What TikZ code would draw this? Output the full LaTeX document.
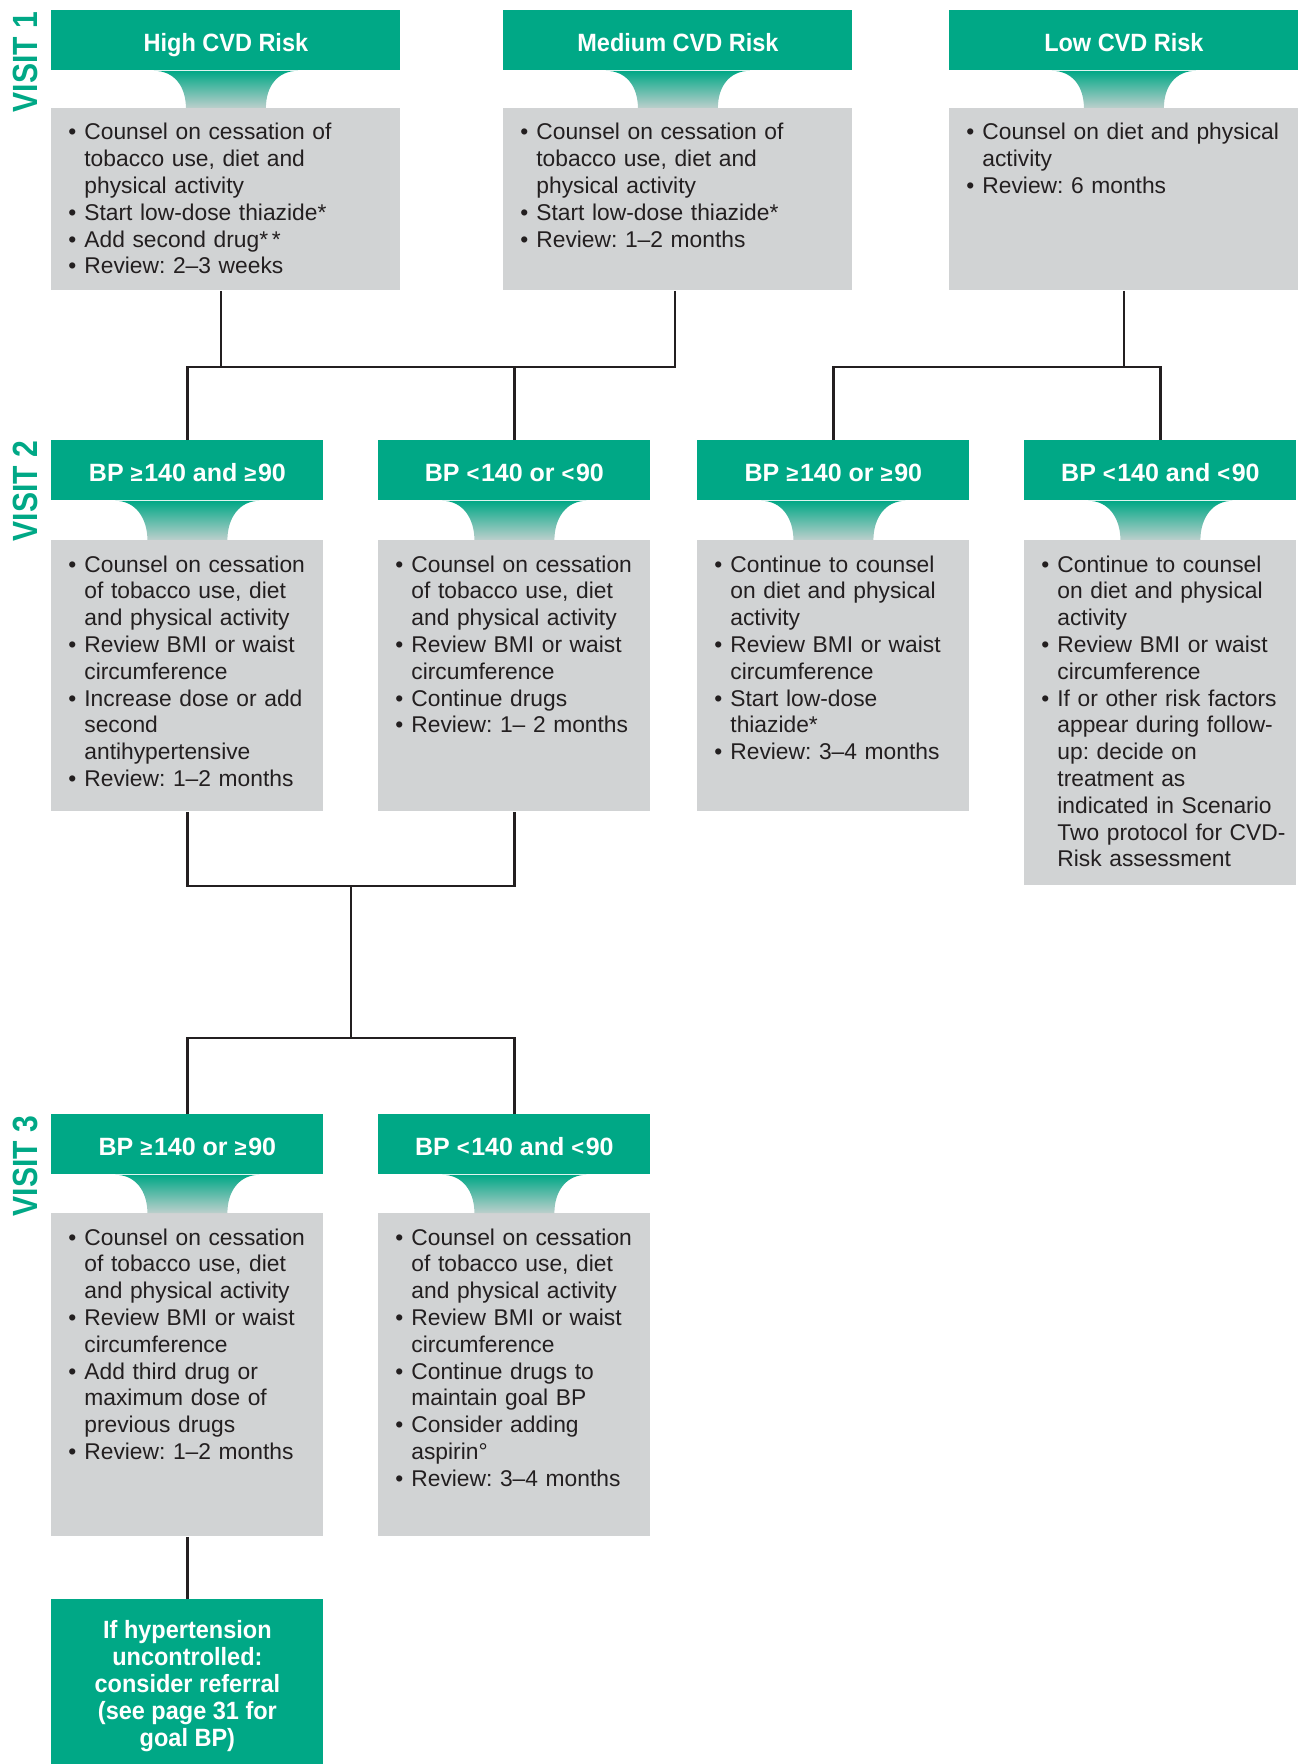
\documentclass[tikz,border=0pt]{standalone}
\usepackage{fontspec}
\setmainfont{Liberation Sans}
\newfontfamily\condfam{Liberation Sans}[FakeStretch=0.94]
\newfontfamily\visitfam{Liberation Sans}[FakeStretch=0.86]
\usetikzlibrary{calc}
\definecolor{cvdgreen}{HTML}{00A886}
\definecolor{boxgray}{HTML}{D1D3D4}
\definecolor{ink}{HTML}{231F20}
\frenchspacing
\hyphenpenalty=10000
\newcommand{\cvdbul}{\makebox[8pt][l]{\textbullet}}
\newcommand{\cvdcont}{\hspace*{8pt}}
\newcommand{\sge}{{\fontsize{11}{11}\selectfont ≥}\hspace{0.8pt}}
\newcommand{\slt}{{\fontsize{11}{11}\selectfont <}\hspace{0.8pt}}
% funnel between a header and its box
\newcommand{\neck}[2]{%
  \shade[top color=cvdgreen, middle color=cvdgreen!60!boxgray, bottom color=boxgray!90!cvdgreen]
    ($(#1.south)+(-72,0)$) .. controls ($(#1.south)+(-52,0)$) and ($(#2.north)+(-40,-22)$) .. ($(#2.north)+(-40,0)$)
    -- ($(#2.north)+(40,0)$) .. controls ($(#2.north)+(40,-22)$) and ($(#1.south)+(52,0)$) .. ($(#1.south)+(72,0)$) -- cycle;}

\begin{document}
\begin{tikzpicture}[x=0.5pt, y=-0.5pt,
    head/.style={anchor=north west, fill=cvdgreen, text=white, inner sep=0pt, minimum height=30pt,
      font=\condfam\bfseries\fontsize{12.5}{13.5}\selectfont},
    hdr/.style={head, text height=11pt, text depth=0pt},
    bp/.style={font=\bfseries\fontsize{12.5}{13.5}\selectfont},
    body/.style={anchor=north west, fill=boxgray, inner sep=0pt},
    bodytext/.style={anchor=base west, align=left, text=ink, text width=200pt, inner xsep=8.5pt, inner ysep=0pt,
      font=\fontsize{11.4}{13.4}\selectfont},
    wide/.style={minimum width=174.5pt},
    narrow/.style={minimum width=136pt},
    visit/.style={rotate=90, anchor=base, text=cvdgreen, font=\visitfam\bfseries\fontsize{17.5}{18}\selectfont},
    link/.style={draw=ink, line width=1.1pt}]
  \useasboundingbox (0,0) rectangle (1298,1764);

  % Visit labels
  \node[visit] (visit1) at (37,62) {VISIT 1};
  \node[visit] (visit2) at (37,491) {VISIT 2};
  \node[visit] (visit3) at (37,1166) {VISIT 3};

  % Visit 1
  \node[hdr, wide] (high) at (51,10) {High CVD Risk};
  \node[body, wide, minimum height=91pt] (highB) at (51,108) {};
  \node[bodytext] (highT) at ($(highB.north west)+(0,32)$) {\cvdbul Counsel on cessation of\\ \cvdcont tobacco use, diet and\\ \cvdcont physical activity\\ \cvdbul Start low-dose thiazide*\\ \cvdbul Add second drug*\,*\\ \cvdbul Review: 2–3 weeks};
  \neck{high}{highB}

  \node[hdr, wide] (med) at (503,10) {Medium CVD Risk};
  \node[body, wide, minimum height=91pt] (medB) at (503,108) {};
  \node[bodytext] (medT) at ($(medB.north west)+(0,32)$) {\cvdbul Counsel on cessation of\\ \cvdcont tobacco use, diet and\\ \cvdcont physical activity\\ \cvdbul Start low-dose thiazide*\\ \cvdbul Review: 1–2 months};
  \neck{med}{medB}

  \node[hdr, wide] (low) at (949,10) {Low CVD Risk};
  \node[body, wide, minimum height=91pt] (lowB) at (949,108) {};
  \node[bodytext] (lowT) at ($(lowB.north west)+(0,32)$) {\cvdbul Counsel on diet and physical\\ \cvdcont activity\\ \cvdbul Review: 6 months};
  \neck{low}{lowB}

  % Visit 2
  \node[hdr, bp, narrow] (v2a) at (51,440) {BP \sge140 and \sge90};
  \node[body, narrow, minimum height=135.5pt] (v2aB) at (51,540) {};
  \node[bodytext] (v2aT) at ($(v2aB.north west)+(0,32)$) {\cvdbul Counsel on cessation\\ \cvdcont of tobacco use, diet\\ \cvdcont and physical activity\\ \cvdbul Review BMI or waist\\ \cvdcont circumference\\ \cvdbul Increase dose or add\\ \cvdcont second\\ \cvdcont antihypertensive\\ \cvdbul Review: 1–2 months};
  \neck{v2a}{v2aB}

  \node[hdr, bp, narrow] (v2b) at (378,440) {BP \slt140 or \slt90};
  \node[body, narrow, minimum height=135.5pt] (v2bB) at (378,540) {};
  \node[bodytext] (v2bT) at ($(v2bB.north west)+(0,32)$) {\cvdbul Counsel on cessation\\ \cvdcont of tobacco use, diet\\ \cvdcont and physical activity\\ \cvdbul Review BMI or waist\\ \cvdcont circumference\\ \cvdbul Continue drugs\\ \cvdbul Review: 1– 2 months};
  \neck{v2b}{v2bB}

  \node[hdr, bp, narrow] (v2c) at (697,440) {BP \sge140 or \sge90};
  \node[body, narrow, minimum height=135.5pt] (v2cB) at (697,540) {};
  \node[bodytext] (v2cT) at ($(v2cB.north west)+(0,32)$) {\cvdbul Continue to counsel\\ \cvdcont on diet and physical\\ \cvdcont activity\\ \cvdbul Review BMI or waist\\ \cvdcont circumference\\ \cvdbul Start low-dose\\ \cvdcont thiazide*\\ \cvdbul Review: 3–4 months};
  \neck{v2c}{v2cB}

  \node[hdr, bp, narrow] (v2d) at (1024,440) {BP \slt140 and \slt90};
  \node[body, narrow, minimum height=172.5pt] (v2dB) at (1024,540) {};
  \node[bodytext] (v2dT) at ($(v2dB.north west)+(0,32)$) {\cvdbul Continue to counsel\\ \cvdcont on diet and physical\\ \cvdcont activity\\ \cvdbul Review BMI or waist\\ \cvdcont circumference\\ \cvdbul If or other risk factors\\ \cvdcont appear during follow-\\ \cvdcont up: decide on\\ \cvdcont treatment as\\ \cvdcont indicated in Scenario\\ \cvdcont Two protocol for CVD-\\ \cvdcont Risk assessment};
  \neck{v2d}{v2dB}

  % Visit 3
  \node[hdr, bp, narrow] (v3a) at (51,1114) {BP \sge140 or \sge90};
  \node[body, narrow, minimum height=161.5pt] (v3aB) at (51,1213) {};
  \node[bodytext] (v3aT) at ($(v3aB.north west)+(0,32)$) {\cvdbul Counsel on cessation\\ \cvdcont of tobacco use, diet\\ \cvdcont and physical activity\\ \cvdbul Review BMI or waist\\ \cvdcont circumference\\ \cvdbul Add third drug or\\ \cvdcont maximum dose of\\ \cvdcont previous drugs\\ \cvdbul Review: 1–2 months};
  \neck{v3a}{v3aB}

  \node[hdr, bp, narrow] (v3b) at (378,1114) {BP \slt140 and \slt90};
  \node[body, narrow, minimum height=161.5pt] (v3bB) at (378,1213) {};
  \node[bodytext] (v3bT) at ($(v3bB.north west)+(0,32)$) {\cvdbul Counsel on cessation\\ \cvdcont of tobacco use, diet\\ \cvdcont and physical activity\\ \cvdbul Review BMI or waist\\ \cvdcont circumference\\ \cvdbul Continue drugs to\\ \cvdcont maintain goal BP\\ \cvdbul Consider adding\\ \cvdcont aspirin°\\ \cvdbul Review: 3–4 months};
  \neck{v3b}{v3bB}

  % Referral
  \node[head, narrow, minimum height=87pt, align=center] (refer) at (51,1599) {If hypertension\\uncontrolled:\\consider referral\\(see page 31 for\\goal BP)};

  % Connectors
  \coordinate (bus1) at (0,367);
  \coordinate (bus2) at (0,886);
  \coordinate (bus3) at (0,1038);
  \draw[link] ([xshift=-2.5pt]highB.south) -- ([xshift=-2.5pt]highB.south |- bus1);
  \draw[link] ([xshift=-1.5pt]medB.south) |- (v2a.north |- bus1) -- (v2a.north);
  \draw[link] (v2b.north) -- (v2b.north |- bus1);
  \draw[link] (lowB.south) -- (lowB.south |- bus1);
  \draw[link] (v2c.north) |- (v2d.north |- bus1) -- (v2d.north);
  \draw[link] (v2aB.south) |- (v2bB.south |- bus2) -- (v2bB.south);
  \coordinate (mid) at ($(v2aB.south)!0.5!(v2bB.south)$);
  \draw[link] (mid |- bus2) -- (mid |- bus3);
  \draw[link] (v3a.north) |- (v3b.north |- bus3) -- (v3b.north);
  \draw[link] (v3aB.south) -- (refer.north);
\end{tikzpicture}
\end{document}
